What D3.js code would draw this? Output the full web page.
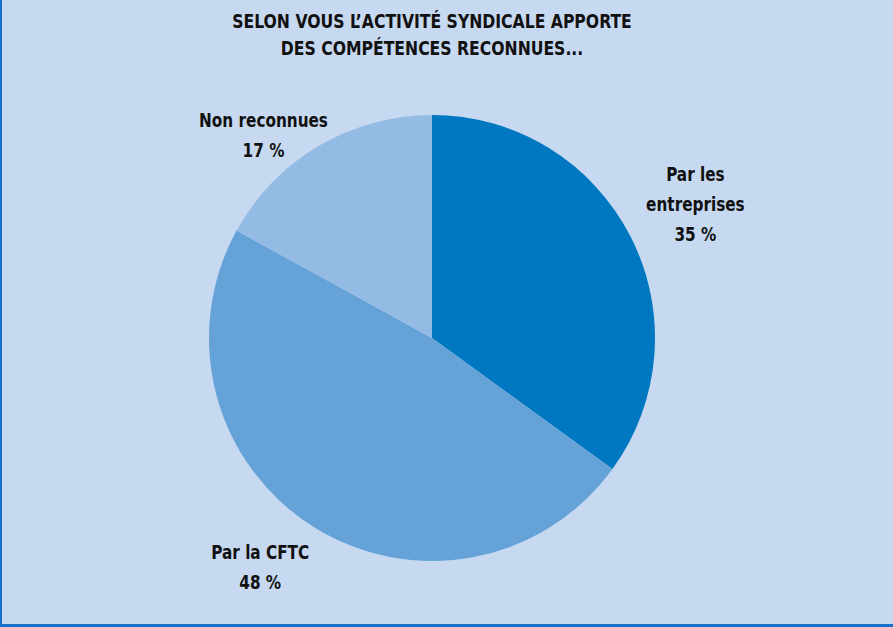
<!DOCTYPE html>
<html>
<head>
<meta charset="utf-8">
<script src="https://cdn.jsdelivr.net/npm/d3@7"></script>
<style>
  body { margin: 0; background: #c6d9f0; }
  svg { display: block; }
  text { font-family: "DejaVu Sans Condensed", "Liberation Sans Narrow", sans-serif; font-weight: bold; fill: #111; }
</style>
</head>
<body>
<svg id="svg1" width="893" height="627"></svg>
<script>
"use strict";

// data
let categories = ["Par les entreprises", "Par la CFTC", "Non reconnues"];
let values = [35, 48, 17];
let colours = ["#0077c1", "#64a2d7", "#94bbe4"];
// label lines for each slice
let labelLines = [["Par les", "entreprises", "35 %"], ["Par la CFTC", "48 %"], ["Non reconnues", "17 %"]];
let titleLines = ["SELON VOUS L\u2019ACTIVIT\u00c9 SYNDICALE APPORTE", "DES COMP\u00c9TENCES RECONNUES..."];

function drawChart() {
    let svg = d3.select("#svg1");
    let width = +svg.attr("width");
    let height = +svg.attr("height");

    // background + border on left and bottom
    svg.append("rect").attr("width", width).attr("height", height).attr("fill", "#c6d9f0");
    svg.append("rect").attr("x", 0).attr("y", 0).attr("width", 2).attr("height", height).attr("fill", "#1a72c8");
    svg.append("rect").attr("x", 0).attr("y", height - 3).attr("width", width).attr("height", 3).attr("fill", "#1a72c8");

    // title (squeezed a bit to look like a condensed face)
    svg.append("g").selectAll("g").data(titleLines).enter().append("g")
        .attr("transform", (d, i) => `translate(432,${28 + i * 27}) scale(0.87,1)`)
        .append("text")
        .attr("text-anchor", "middle").style("font-size", "20px")
        .text(d => d);

    let cx = 432, cy = 338, r = 223;
    let pie = d3.pie().sort(null).value(d => d);
    let arc = d3.arc().innerRadius(0).outerRadius(r);
    let g = svg.append("g").attr("transform", `translate(${cx},${cy})`);

    g.selectAll("path").data(pie(values)).enter().append("path")
        .attr("d", arc)
        .attr("fill", (d, i) => colours[i]);

    // labels outside the pie, placed from the slice angle then nudged
    let labelArc = d3.arc().innerRadius(r * 1.22).outerRadius(r * 1.22);
    let nudge = [[21, -33], [-26, -9], [-30, 23]];
    let lineH = 30;
    let labels = svg.append("g").attr("transform", `translate(${cx},${cy})`);
    pie(values).forEach((d, i) => {
        let p = labelArc.centroid(d);
        let t = labels.append("g")
            .attr("transform", `translate(${p[0] + nudge[i][0]},${p[1] + nudge[i][1]}) scale(0.87,1)`)
            .append("text")
            .attr("text-anchor", "middle").style("font-size", "19.5px");
        labelLines[i].forEach((line, j) => {
            t.append("tspan").attr("x", 0).attr("y", j * lineH).text(line);
        });
    });
}

drawChart();
</script>
</body>
</html>
